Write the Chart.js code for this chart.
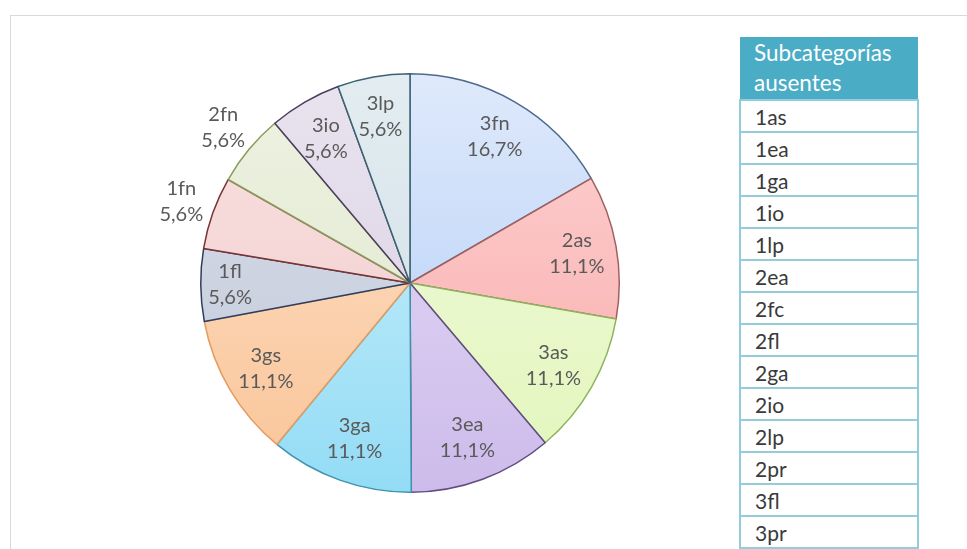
<!DOCTYPE html>
<html>
<head>
<meta charset="utf-8">
<script src="https://cdn.jsdelivr.net/npm/chart.js@4"></script>
<style>
  body { margin: 0; background: #fff; font-family: Lato, "Open Sans", sans-serif; }
  #frame { position: absolute; left: 10px; top: 15px; width: 980px; height: 560px; border: 1px solid #d9d9d9; }
  #wrap { position: absolute; left: 100px; top: 45px; width: 620px; height: 476px; }
  table { position: absolute; left: 739px; top: 37px; width: 180px; border-collapse: collapse; font-size: 21px; color: #3a3a3a; }
  th { background: #4bacc6; color: #fff; font-weight: normal; font-size: 22.5px; text-align: left; padding: 1px 8px 1px 14px; line-height: 30px; border: 0; }
  td { border: 2px solid #92cddc; padding: 0 0 0 14px; height: 30px; line-height: 29px; }
</style>
</head>
<body>
<div id="frame"></div>
<div id="wrap"><canvas id="pie"></canvas></div>
<table id="tbl"></table>
<script>
// slices clockwise from 12 o'clock
const labels = ['3fn', '2as', '3as', '3ea', '3ga', '3gs', '1fl', '1fn', '2fn', '3io', '3lp'];
const percents = [16.7, 11.1, 11.1, 11.1, 11.1, 11.1, 5.6, 5.6, 5.6, 5.6, 5.6];

const missingHeader = ['Subcategorías', 'ausentes'];
const missing = ['1as', '1ea', '1ga', '1io', '1lp', '2ea', '2fc', '2fl', '2ga', '2io', '2lp', '2pr', '3fl', '3pr'];

// gradient top / bottom and edge colours per slice
const topColors = ['#dfe9fb', '#fdd3d3', '#f1fadf', '#e6def5', '#d3f1fb', '#fde2cb', '#dadfe9', '#f8e2e2', '#eef2e3', '#e9e3ef', '#e3edf1'];
const bottomColors = ['#adcbf6', '#f9a8a8', '#e2f6bb', '#cdbbeb', '#93dcf5', '#fac497', '#bfc7d9', '#f2c9c9', '#dfe6c9', '#d8cee2', '#ccdce5'];
const edgeColors = ['#4d6a8d', '#a06060', '#8fb35c', '#5f4c80', '#3f93ab', '#e39c60', '#2f3d5c', '#7a3434', '#8a9a5c', '#4c3c5c', '#3c6272'];
// label distance from centre, in radii
const labelRadius = [0.81, 0.81, 0.79, 0.79, 0.79, 0.8, 0.86, 1.16, 1.16, 0.8, 0.81];

// build the table
const tbl = document.getElementById('tbl');
tbl.innerHTML = '<tr><th>' + missingHeader.join('<br>') + '</th></tr>' +
  missing.map(m => '<tr><td>' + m + '</td></tr>').join('');

const sliceLabels = {
  id: 'sliceLabels',
  afterDatasetsDraw(chart) {
    const ctx = chart.ctx;
    const arcs = chart.getDatasetMeta(0).data;
    ctx.save();
    ctx.font = '20px Lato, "Open Sans", sans-serif';
    ctx.fillStyle = '#5a5a5a';
    ctx.textAlign = 'center';
    ctx.textBaseline = 'middle';
    arcs.forEach((arc, i) => {
      const p = arc.getProps(['x', 'y', 'startAngle', 'endAngle', 'outerRadius'], true);
      const mid = (p.startAngle + p.endAngle) / 2;
      const r = p.outerRadius * labelRadius[i];
      const x = p.x + Math.cos(mid) * r;
      const y = p.y + Math.sin(mid) * r;
      ctx.fillText(labels[i], x, y - 13);
      ctx.fillText(percents[i].toFixed(1).replace('.', ',') + '%', x, y + 13);
    });
    ctx.restore();
  }
};

function gradientFill(context) {
  const chart = context.chart;
  const area = chart.chartArea;
  if (!area) return topColors[context.dataIndex];
  const g = chart.ctx.createLinearGradient(0, area.top, 0, area.bottom);
  g.addColorStop(0, topColors[context.dataIndex]);
  g.addColorStop(1, bottomColors[context.dataIndex]);
  return g;
}

new Chart(document.getElementById('pie'), {
  type: 'pie',
  data: {
    labels: labels,
    datasets: [{
      data: percents,
      backgroundColor: gradientFill,
      borderColor: edgeColors,
      borderWidth: 1.5
    }]
  },
  options: {
    responsive: true,
    maintainAspectRatio: false,
    animation: false,
    layout: { padding: { top: 28, bottom: 28 } },
    plugins: { legend: { display: false }, tooltip: { enabled: false } }
  },
  plugins: [sliceLabels]
});
</script>
</body>
</html>
